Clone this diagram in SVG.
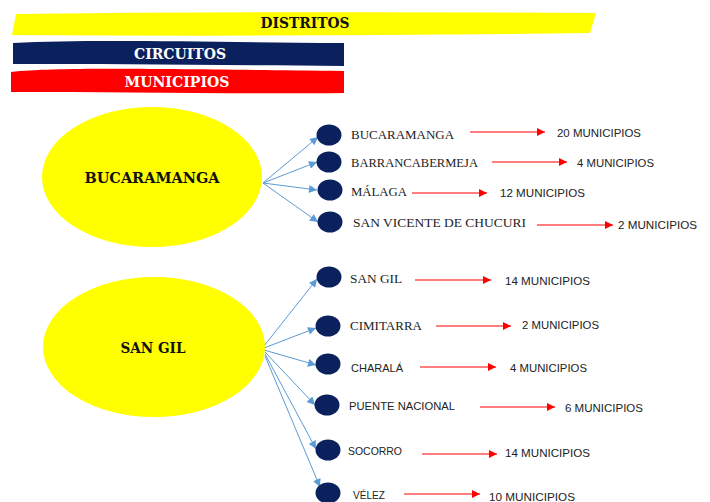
<svg xmlns="http://www.w3.org/2000/svg" width="710" height="502" viewBox="0 0 710 502">
<defs>
<marker id="blueHead" viewBox="0 0 10 10" refX="10" refY="5" markerWidth="9" markerHeight="8" markerUnits="userSpaceOnUse" orient="auto">
<path d="M0,0 L10,5 L0,10 Z" fill="#5B9BD5"/>
</marker>
<marker id="redHead" viewBox="0 0 10 10" refX="10" refY="5" markerWidth="9" markerHeight="8" markerUnits="userSpaceOnUse" orient="auto">
<path d="M0,0 L10,5 L0,10 Z" fill="#FF0000"/>
</marker>
<style>
.hdr{font-family:"DejaVu Serif","Liberation Serif",serif;font-weight:bold;font-size:14px;text-anchor:middle}
.big{font-family:"DejaVu Serif","Liberation Serif",serif;font-weight:bold;font-size:14px;fill:#111;text-anchor:middle}
.lbl{font-family:"Liberation Serif",serif;font-size:13px;fill:#222}
.lbs{font-family:"Liberation Sans",sans-serif;font-size:11px;fill:#222}
.cnt{font-family:"Liberation Sans",sans-serif;font-size:11px;fill:#222}
.dot{fill:#0B215E}
.ell{fill:#FFFF00}
.blue{stroke:#5B9BD5;stroke-width:1;fill:none;marker-end:url(#blueHead)}
.red{stroke:#FF0000;stroke-width:1.2;fill:none;marker-end:url(#redHead)}
</style>
</defs>

<g id="banner-distritos">
<path d="M16,14 Q300,11 596,13 L590,33 Q300,37 12,35 Z" fill="#FFFF00"/>
<text class="hdr" x="305" y="28" fill="#111" textLength="89" lengthAdjust="spacingAndGlyphs">DISTRITOS</text>
</g>
<g id="banner-circuitos">
<path d="M13,43 C90,39 200,42 344,43 L344,66 C220,65 110,64 13,64 Z" fill="#0B215E"/>
<text class="hdr" x="180" y="59" fill="#FFFFFF" textLength="92" lengthAdjust="spacingAndGlyphs">CIRCUITOS</text>
</g>
<g id="banner-municipios">
<path d="M11,72 C60,67 150,69 344,71 L344,93 C240,94 120,92 11,92 Z" fill="#FF0000"/>
<text class="hdr" x="177" y="87" fill="#FFFFFF" textLength="105" lengthAdjust="spacingAndGlyphs">MUNICIPIOS</text>
</g>

<g id="connectors">
<line class="blue" x1="263" y1="183" x2="318" y2="137"/>
<line class="blue" x1="263" y1="183" x2="317" y2="162"/>
<line class="blue" x1="263" y1="183" x2="317" y2="190"/>
<line class="blue" x1="263" y1="183" x2="318" y2="222"/>
<line class="blue" x1="264" y1="346" x2="317" y2="279"/>
<line class="blue" x1="264" y1="348" x2="316" y2="328"/>
<line class="blue" x1="264" y1="350" x2="316" y2="365"/>
<line class="blue" x1="265" y1="352" x2="315" y2="405"/>
<line class="blue" x1="265" y1="354" x2="316" y2="449"/>
<line class="blue" x1="265" y1="356" x2="320" y2="487"/>
<line class="red" x1="470" y1="132" x2="545" y2="132"/>
<line class="red" x1="492" y1="162" x2="567" y2="162"/>
<line class="red" x1="412" y1="193" x2="487" y2="193"/>
<line class="red" x1="537" y1="225" x2="613" y2="225"/>
<line class="red" x1="415" y1="280" x2="491" y2="280"/>
<line class="red" x1="436" y1="326" x2="511" y2="326"/>
<line class="red" x1="420" y1="367" x2="496" y2="367"/>
<line class="red" x1="480" y1="407" x2="555" y2="407"/>
<line class="red" x1="422" y1="454" x2="497" y2="454"/>
<line class="red" x1="404" y1="494" x2="480" y2="494"/>
</g>

<g id="distrito-bucaramanga">
<ellipse class="ell" cx="152" cy="177" rx="110" ry="70"/>
<text class="big" x="152" y="183" textLength="135" lengthAdjust="spacingAndGlyphs">BUCARAMANGA</text>
</g>
<g id="distrito-sangil">
<ellipse class="ell" cx="154" cy="347" rx="111" ry="70"/>
<text class="big" x="153" y="353" textLength="65" lengthAdjust="spacingAndGlyphs">SAN GIL</text>
</g>

<g id="c-bucaramanga">
<ellipse class="dot" cx="329" cy="135" rx="12.5" ry="10.5"/>
<text class="lbl" x="351" y="139" textLength="103" lengthAdjust="spacingAndGlyphs">BUCARAMANGA</text>
<text class="cnt" x="557" y="137" textLength="84" lengthAdjust="spacingAndGlyphs">20 MUNICIPIOS</text>
</g>
<g id="c-barrancabermeja">
<ellipse class="dot" cx="329" cy="162" rx="12.5" ry="10.5"/>
<text class="lbl" x="351" y="166.5" textLength="127" lengthAdjust="spacingAndGlyphs">BARRANCABERMEJA</text>
<text class="cnt" x="577" y="167" textLength="77" lengthAdjust="spacingAndGlyphs">4 MUNICIPIOS</text>
</g>
<g id="c-malaga">
<ellipse class="dot" cx="330" cy="190" rx="12.5" ry="10.5"/>
<text class="lbl" x="351" y="196" textLength="56" lengthAdjust="spacingAndGlyphs">MÁLAGA</text>
<text class="cnt" x="500" y="197" textLength="85" lengthAdjust="spacingAndGlyphs">12 MUNICIPIOS</text>
</g>
<g id="c-sanvicente">
<ellipse class="dot" cx="330" cy="222" rx="12.5" ry="10.5"/>
<text class="lbl" x="353" y="226.5" textLength="173" lengthAdjust="spacingAndGlyphs">SAN VICENTE DE CHUCURI</text>
<text class="cnt" x="618" y="229" textLength="79" lengthAdjust="spacingAndGlyphs">2 MUNICIPIOS</text>
</g>

<g id="c-sangil">
<ellipse class="dot" cx="329" cy="277" rx="12.5" ry="10.5"/>
<text class="lbl" x="350" y="282.5" textLength="52" lengthAdjust="spacingAndGlyphs">SAN GIL</text>
<text class="cnt" x="505" y="285" textLength="85" lengthAdjust="spacingAndGlyphs">14 MUNICIPIOS</text>
</g>
<g id="c-cimitarra">
<ellipse class="dot" cx="328" cy="326" rx="12.5" ry="10.5"/>
<text class="lbl" x="350" y="329.5" textLength="72" lengthAdjust="spacingAndGlyphs">CIMITARRA</text>
<text class="cnt" x="522" y="329" textLength="77" lengthAdjust="spacingAndGlyphs">2 MUNICIPIOS</text>
</g>
<g id="c-charala">
<ellipse class="dot" cx="328" cy="364" rx="12.5" ry="10.5"/>
<text class="lbs" x="351" y="372" textLength="52" lengthAdjust="spacingAndGlyphs">CHARALÁ</text>
<text class="cnt" x="510" y="372" textLength="77" lengthAdjust="spacingAndGlyphs">4 MUNICIPIOS</text>
</g>
<g id="c-puentenacional">
<ellipse class="dot" cx="327" cy="405" rx="12.5" ry="10.5"/>
<text class="lbs" x="349" y="410" textLength="106" lengthAdjust="spacingAndGlyphs">PUENTE NACIONAL</text>
<text class="cnt" x="565" y="412" textLength="78" lengthAdjust="spacingAndGlyphs">6 MUNICIPIOS</text>
</g>
<g id="c-socorro">
<ellipse class="dot" cx="328" cy="450" rx="12.5" ry="10.5"/>
<text class="lbs" x="348" y="455" textLength="54" lengthAdjust="spacingAndGlyphs">SOCORRO</text>
<text class="cnt" x="505" y="457" textLength="85" lengthAdjust="spacingAndGlyphs">14 MUNICIPIOS</text>
</g>
<g id="c-velez">
<ellipse class="dot" cx="328" cy="493" rx="12.5" ry="10.5"/>
<text class="lbs" x="353" y="499" textLength="32" lengthAdjust="spacingAndGlyphs">VÉLEZ</text>
<text class="cnt" x="489" y="501" textLength="86" lengthAdjust="spacingAndGlyphs">10 MUNICIPIOS</text>
</g>
</svg>
